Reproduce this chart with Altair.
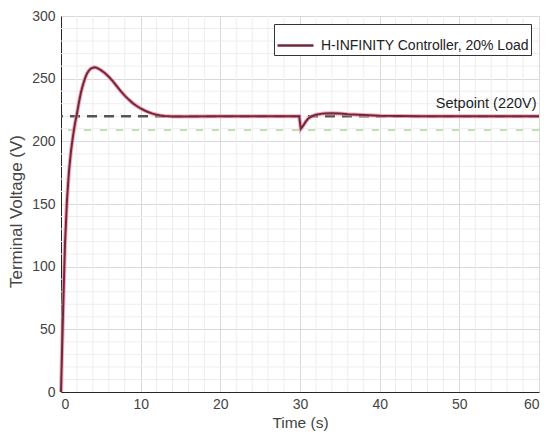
import altair as alt
import pandas as pd

# Response curve
time_s = [0, 0.25, 0.5, 0.75, 1.0, 1.25, 1.5, 1.75, 2.0, 2.25, 2.5, 2.75, 3.0, 3.25, 3.5,
          3.75, 4.0, 4.25, 4.5, 4.75, 5.0, 5.5, 6.0, 6.5, 7.0, 7.5, 8.0, 8.5, 9.0, 9.5,
          10.0, 10.5, 11.0, 11.5, 12.0, 12.5, 13, 14, 15, 20, 25, 29.9, 30.1, 30.4, 30.7,
          31.0, 31.5, 32.0, 33.0, 34.0, 35.0, 36.0, 38.0, 40.0, 45, 50, 55, 60]
voltage = [0, 62, 118, 153, 176, 192, 204, 214, 222, 231, 239, 245, 250, 254, 256.5,
           258, 258.8, 259, 258.6, 257.8, 256.8, 254.5, 251.5, 248, 244, 240, 236.5, 233.3, 230.5, 228.2,
           226.2, 224.6, 223.2, 222.1, 221.2, 220.6, 220.2, 219.9, 219.9, 220, 220, 220, 210, 212.5, 215.5,
           218, 220, 221.2, 222.3, 222.5, 222.2, 221.7, 221, 220.5, 220.1, 220, 220, 220]

series_name = "H-INFINITY Controller, 20% Load"
setpoint = 220
lower_band = 209
setpoint_label = "Setpoint (220V)"

x_major = [0, 10, 20, 30, 40, 50, 60]
y_major = [0, 50, 100, 150, 200, 250, 300]
x_minor = [2, 4, 6, 8, 12, 14, 16, 18, 22, 24, 26, 28, 32, 34, 36, 38, 42, 44, 46, 48, 52, 54, 56, 58]
y_minor = [10, 20, 30, 40, 60, 70, 80, 90, 110, 120, 130, 140, 160, 170, 180, 190, 210, 220, 230, 240, 260, 270, 280, 290]

FONT = "Liberation Sans"
AX = "#262626"
TXT = "#444444"

df = pd.DataFrame({"t": time_s, "v": voltage, "s": series_name})

xs = alt.Scale(domain=[0, 60], nice=False)
ys = alt.Scale(domain=[0, 300], nice=False)

x_axis = alt.Axis(values=x_major, title="Time (s)", grid=True, gridColor="#d9d9d9",
                  ticks=False, domainColor=AX, labelColor=TXT, labelFont=FONT,
                  labelFontSize=14, titleFont=FONT, titleFontSize=15.5, titleFontWeight="normal",
                  titleColor=TXT, labelPadding=5, titlePadding=4)
y_axis = alt.Axis(values=y_major, title="Terminal Voltage (V)", grid=True, gridColor="#d9d9d9",
                  ticks=False, domainColor=AX, labelColor=TXT, labelFont=FONT,
                  labelFontSize=14, titleFont=FONT, titleFontSize=17, titleFontWeight="normal",
                  titleColor=TXT, labelPadding=6, titlePadding=6, titleY=195)

minor_x = alt.Chart(pd.DataFrame({"x": x_minor})).mark_rule(
    color="#ededed", strokeWidth=1).encode(x=alt.X("x:Q", scale=xs, axis=x_axis))
minor_y = alt.Chart(pd.DataFrame({"y": y_minor})).mark_rule(
    color="#ededed", strokeWidth=1).encode(y=alt.Y("y:Q", scale=ys, axis=y_axis))

sp = alt.Chart(pd.DataFrame({"y": [setpoint]})).mark_rule(
    color="#555555", strokeWidth=2.5, strokeDash=[10, 7]).encode(y=alt.Y("y:Q", scale=ys))
band = alt.Chart(pd.DataFrame({"y": [lower_band]})).mark_rule(
    color="#b9dcae", strokeWidth=1.8, strokeDash=[7, 9]).encode(y=alt.Y("y:Q", scale=ys))

halo = alt.Chart(df).mark_line(color="#f08aa5", strokeWidth=4, opacity=0.75).encode(
    x=alt.X("t:Q", scale=xs), y=alt.Y("v:Q", scale=ys))
curve = alt.Chart(df).mark_line(strokeWidth=2).encode(
    x=alt.X("t:Q", scale=xs), y=alt.Y("v:Q", scale=ys),
    color=alt.Color("s:N", scale=alt.Scale(range=["#6e2a3a"]),
                    legend=alt.Legend(title=None, orient="top-right", offset=8,
                                      symbolType="stroke", symbolStrokeWidth=2.5,
                                      symbolSize=1300, labelFont=FONT, labelFontSize=14,
                                      labelLimit=400, labelColor="#222222", fillColor="white",
                                      strokeColor="#333333", padding=2, labelOffset=6)))

txt = alt.Chart(pd.DataFrame({"x": [59.7], "y": [setpoint], "l": [setpoint_label]})).mark_text(
    align="right", baseline="bottom", dy=-5, font=FONT, fontSize=14.5, color="#222222").encode(
    x=alt.X("x:Q", scale=xs), y=alt.Y("y:Q", scale=ys), text="l:N")

chart = alt.layer(minor_x, minor_y, band, sp, halo, curve, txt).properties(
    width=478, height=376,
    autosize=alt.AutoSizeParams(type="none"),
    padding={"left": 61, "top": 16, "right": 7, "bottom": 49},
).configure_view(stroke=AX, strokeWidth=1).configure(background="white")

chart.save("out.html", embed_options={"renderer": "svg", "actions": False})
